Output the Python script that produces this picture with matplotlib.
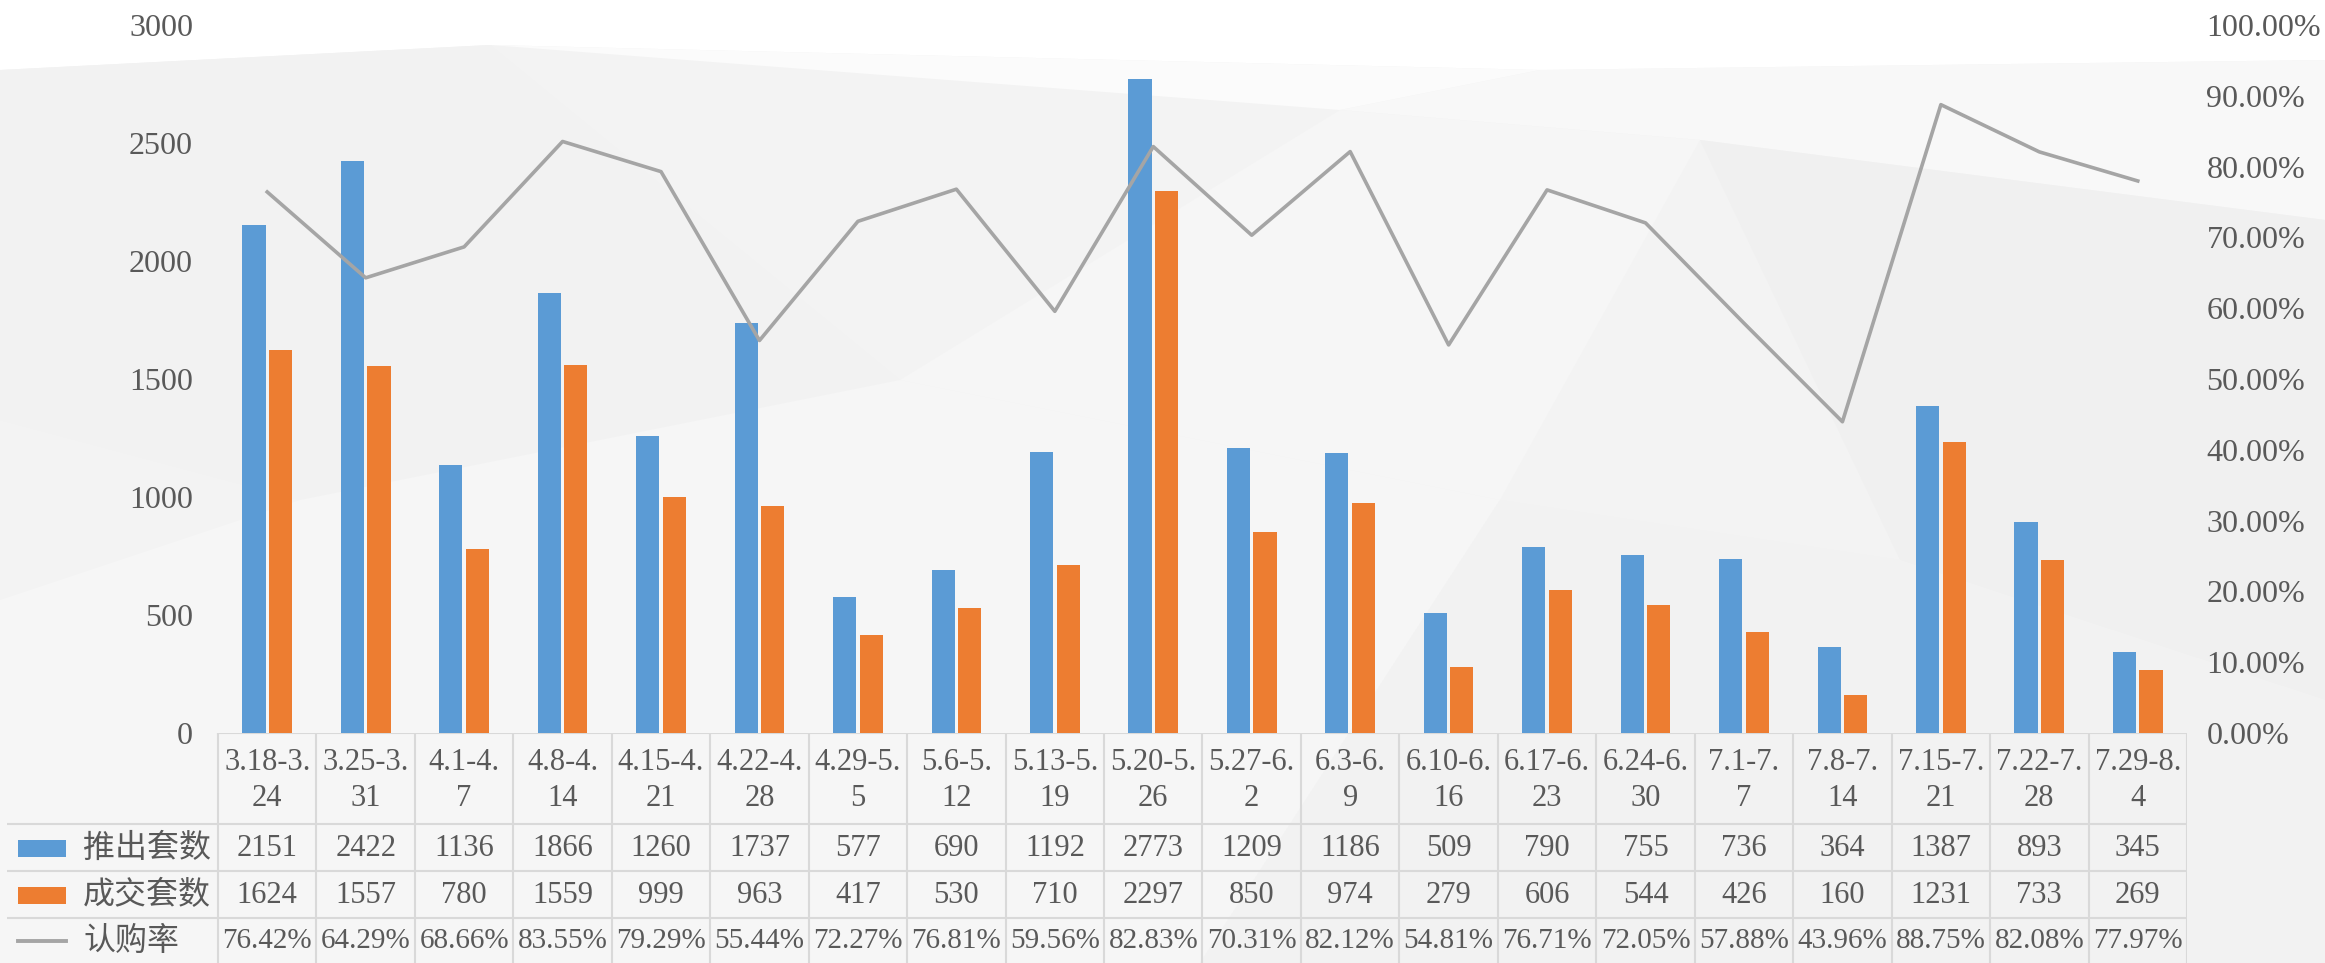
import numpy as np
import matplotlib
matplotlib.use("Agg")
import matplotlib.pyplot as plt
from matplotlib.patches import Polygon, Rectangle

plt.rcParams['font.family'] = ['Liberation Serif', 'Noto Sans CJK SC']

# data
categories = ["3.18-3.24", "3.25-3.31", "4.1-4.7", "4.8-4.14", "4.15-4.21",
              "4.22-4.28", "4.29-5.5", "5.6-5.12", "5.13-5.19", "5.20-5.26",
              "5.27-6.2", "6.3-6.9", "6.10-6.16", "6.17-6.23", "6.24-6.30",
              "7.1-7.7", "7.8-7.14", "7.15-7.21", "7.22-7.28", "7.29-8.4"]
launched = [2151, 2422, 1136, 1866, 1260, 1737, 577, 690, 1192, 2773,
            1209, 1186, 509, 790, 755, 736, 364, 1387, 893, 345]
sold = [1624, 1557, 780, 1559, 999, 963, 417, 530, 710, 2297,
        850, 974, 279, 606, 544, 426, 160, 1231, 733, 269]
rate = [76.42, 64.29, 68.66, 83.55, 79.29, 55.44, 72.27, 76.81, 59.56, 82.83,
        70.31, 82.12, 54.81, 76.71, 72.05, 57.88, 43.96, 88.75, 82.08, 77.97]
series_names = ["推出套数", "成交套数", "认购率"]
left_ticks = [0, 500, 1000, 1500, 2000, 2500, 3000]
right_ticks = [0, 10, 20, 30, 40, 50, 60, 70, 80, 90, 100]

BLUE = "#5b9bd5"
ORANGE = "#ed7d31"
GREY = "#a5a5a5"
TXT = "#595959"
GRID = "#d9d9d9"

W, H = 2325, 963
fig = plt.figure(figsize=(W / 100, H / 100), dpi=100)
fig.patch.set_facecolor("#f3f3f3")

# decorative background facets (pixel coords, y down)
bg = fig.add_axes([0, 0, 1, 1], zorder=-10)
bg.set_xlim(0, W)
bg.set_ylim(H, 0)
bg.axis("off")
facets = [
    ([(0, 0), (W, 0), (W, 60), (1540, 70), (490, 45), (0, 70)], "#ffffff"),
    ([(490, 45), (1340, 110), (1540, 70)], "#fbfbfb"),
    ([(1340, 110), (1540, 70), (W, 60), (W, 220), (1700, 140)], "#f8f8f8"),
    ([(0, 70), (490, 45), (900, 380), (300, 500), (0, 420)], "#f2f2f2"),
    ([(900, 380), (1340, 110), (1700, 140), (1500, 500)], "#f6f6f6"),
    ([(1700, 140), (W, 220), (W, 700), (1900, 560)], "#f0f0f0"),
    ([(300, 500), (900, 380), (1500, 500), (1200, 963), (0, 963), (0, 600)], "#f6f6f6"),
    ([(1500, 500), (1900, 560), (W, 700), (W, 963), (1200, 963)], "#f2f2f2"),
]
for pts, col in facets:
    bg.add_patch(Polygon(pts, closed=True, facecolor=col, edgecolor="none"))

# main chart area
x_left, x_right, y_top, y_base = 218, 2187, 25, 733
ax = fig.add_axes([x_left / W, (H - y_base) / H, (x_right - x_left) / W, (y_base - y_top) / H])
ax.patch.set_alpha(0)
n = len(categories)
x = np.arange(n)
bw = 0.235
ax.bar(x - 0.135, launched, bw, color=BLUE, zorder=3)
ax.bar(x + 0.135, sold, bw, color=ORANGE, zorder=3)
ax.set_xlim(-0.5, n - 0.5)
ax.set_ylim(0, 3000)
ax.set_yticks(left_ticks)
ax.set_xticks([])
for s in ax.spines.values():
    s.set_visible(False)
ax.tick_params(axis="y", length=0, pad=18, labelsize=23, labelcolor=TXT)

ax2 = ax.twinx()
ax2.plot(x, rate, color=GREY, lw=2.6, zorder=4)
ax2.set_ylim(0, 100)
ax2.set_yticks(right_ticks)
ax2.set_yticklabels(["{:.2f}%".format(v) for v in right_ticks])
for s in ax2.spines.values():
    s.set_visible(False)
ax2.tick_params(axis="y", length=0, pad=14, labelsize=23, labelcolor=TXT)

# data table under the chart
t_left = 7
unit = (x_right - x_left) / n
tab = fig.add_axes([t_left / W, 0, (x_right - t_left) / W, (H - y_base) / H])
tab.set_xlim(-0.5 - (x_left - t_left) / unit, n - 0.5)
tab.set_ylim(H, y_base)
tab.axis("off")
tab.patch.set_alpha(0)

rows = [y_base, 824, 871, 918, H]
tab.plot([-0.5, n - 0.5], [rows[0], rows[0]], color=GRID, lw=1.5)
for yy in rows[1:4]:
    tab.plot([tab.get_xlim()[0], n - 0.5], [yy, yy], color=GRID, lw=1.5)
for k in range(n + 1):
    tab.plot([k - 0.5, k - 0.5], [rows[0], H], color=GRID, lw=1.5)

fs = 22
for i, cat in enumerate(categories):
    cut = cat.rfind(".")
    tab.text(i, 762, cat[:cut + 1], ha="center", va="center", fontsize=fs, color=TXT)
    tab.text(i, 798, cat[cut + 1:], ha="center", va="center", fontsize=fs, color=TXT)
    tab.text(i, 848, str(launched[i]), ha="center", va="center", fontsize=fs, color=TXT)
    tab.text(i, 895, str(sold[i]), ha="center", va="center", fontsize=fs, color=TXT)
    tab.text(i, 941, "{:.2f}%".format(rate[i]), ha="center", va="center", fontsize=fs - 1, color=TXT)

# legend keys in the first column
x0 = tab.get_xlim()[0]
kx = x0 + 11 / unit
kw = 48 / unit
tab.add_patch(Rectangle((kx, 840), kw, 17, facecolor=BLUE, edgecolor="none"))
tab.add_patch(Rectangle((kx, 887), kw, 17, facecolor=ORANGE, edgecolor="none"))
tab.plot([kx, kx + kw], [941, 941], color=GREY, lw=2.8)
lx = x0 + 76 / unit
for yy, name in zip([848, 895, 941], series_names):
    tab.text(lx, yy, name, ha="left", va="center", fontsize=23, color=TXT,
             family=["Noto Sans CJK SC"])

fig.savefig("out.png", dpi=100, facecolor=fig.get_facecolor())
